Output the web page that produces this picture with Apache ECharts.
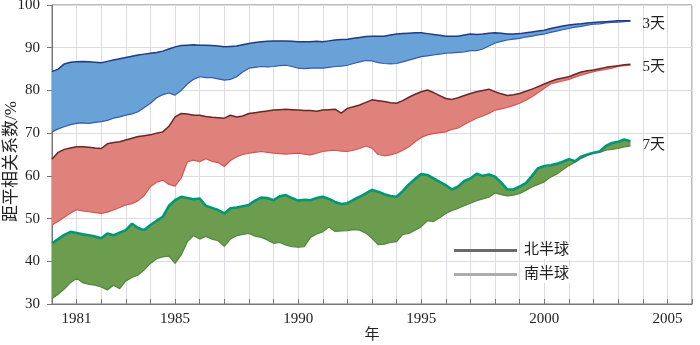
<!DOCTYPE html>
<html><head><meta charset="utf-8">
<script src="https://cdn.jsdelivr.net/npm/echarts@6/dist/echarts.min.js"></script>
<style>html,body{margin:0;padding:0;background:#fff}#c{width:700px;height:345px}</style>
</head><body><div id="c"></div>
<script>
// sample times (years, quarterly)
const years = [
1980,1980.25,1980.5,1980.75,1981,1981.25,1981.5,1981.75,1982,1982.25,1982.5,1982.75,
1983,1983.25,1983.5,1983.75,1984,1984.25,1984.5,1984.75,1985,1985.25,1985.5,1985.75,
1986,1986.25,1986.5,1986.75,1987,1987.25,1987.5,1987.75,1988,1988.25,1988.5,1988.75,
1989,1989.25,1989.5,1989.75,1990,1990.25,1990.5,1990.75,1991,1991.25,1991.5,1991.75,
1992,1992.25,1992.5,1992.75,1993,1993.25,1993.5,1993.75,1994,1994.25,1994.5,1994.75,
1995,1995.25,1995.5,1995.75,1996,1996.25,1996.5,1996.75,1997,1997.25,1997.5,1997.75,
1998,1998.25,1998.5,1998.75,1999,1999.25,1999.5,1999.75,2000,2000.25,2000.5,2000.75,
2001,2001.25,2001.5,2001.75,2002,2002.25,2002.5,2002.75,2003,2003.25,2003.5];

// 3-day, northern / southern hemisphere
const nh3 = [84.4,85.0,86.2,86.6, 86.7,86.8,86.7,86.6, 86.5,86.8,87.1,87.4, 87.7,88.0,88.3,88.5,
88.7,88.9,89.2,89.7, 90.2,90.5,90.6,90.7, 90.6,90.6,90.5,90.4, 90.2,90.3,90.4,90.7,
91.0,91.2,91.4,91.5, 91.6,91.6,91.6,91.5, 91.4,91.4,91.4,91.5, 91.4,91.6,91.8,91.9,
92.0,92.2,92.4,92.6, 92.7,92.7,92.7,93.0, 93.2,93.3,93.4,93.5, 93.5,93.3,93.1,92.9,
92.7,92.7,92.7,93.0, 93.2,93.1,93.2,93.4, 93.5,93.4,93.2,93.2, 93.3,93.5,93.7,93.9,
94.1,94.5,94.8,95.1, 95.3,95.5,95.6,95.8, 95.9,96.0,96.1,96.2, 96.3,96.3,96.3];
const sh3 = [70.3,71.0,71.5,72.0, 72.3,72.4,72.3,72.5, 72.7,73.0,73.5,73.8, 74.2,74.5,75.0,76.0,
77.0,78.3,79.0,79.4, 78.9,80.0,81.5,82.6, 83.2,83.0,83.0,82.7, 82.4,82.6,83.2,84.3,
85.2,85.4,85.6,85.5, 85.6,85.8,85.9,85.6, 85.2,85.1,85.2,85.3, 85.2,85.4,85.6,85.7,
85.9,86.3,86.7,87.0, 86.9,86.5,86.3,86.2, 86.3,86.7,87.1,87.5, 87.9,88.1,88.3,88.5,
88.7,88.8,88.9,89.0, 89.3,89.3,89.7,90.4, 91.1,91.5,91.8,92.0, 92.2,92.5,92.7,93.0,
93.2,93.6,93.9,94.2, 94.5,94.8,95.0,95.3, 95.5,95.6,95.8,95.9, 96.0,96.1,96.2];

// 5-day
const nh5 = [63.9,65.5,66.2,66.5, 66.8,66.8,66.7,66.5, 66.4,67.5,67.8,68.0, 68.4,68.8,69.2,69.4,
69.6,70.0,70.3,71.6, 73.8,74.6,74.5,74.2, 74.2,73.9,73.7,73.6, 73.5,74.2,73.8,74.0,
74.6,74.8,75.0,75.2, 75.4,75.5,75.6,75.5, 75.4,75.3,75.3,75.1, 75.4,75.5,75.6,74.7,
75.8,76.2,76.6,77.2, 77.8,77.6,77.4,77.1, 77.0,77.6,78.4,79.1, 79.7,80.1,79.5,78.8,
78.1,77.9,78.3,78.8, 79.3,79.7,80.0,80.3, 79.7,79.2,78.8,79.0, 79.3,79.8,80.3,80.9,
81.5,82.1,82.6,82.9, 83.2,83.8,84.3,84.6, 84.8,85.1,85.4,85.6, 85.8,86.0,86.1];
const sh5 = [48.5,49.4,50.3,51.3, 52.1,51.8,51.6,51.4, 51.2,51.5,52.0,52.6, 53.2,53.5,54.2,55.4,
57.5,58.5,59.0,58.0, 57.6,59.5,63.3,63.7, 63.3,64.0,63.4,63.1, 62.2,63.6,64.5,65.0,
65.3,65.5,65.7,65.5, 65.3,65.2,65.1,65.2, 65.3,65.1,64.9,65.3, 65.7,65.9,66.0,65.8,
65.7,66.0,66.4,67.0, 66.5,65.0,64.7,64.9, 65.3,66.0,66.8,68.0, 69.0,69.6,69.9,70.1,
70.3,70.9,71.2,72.0, 72.8,73.5,74.0,74.6, 75.4,75.7,76.0,76.5, 77.0,77.7,78.5,79.5,
80.5,81.5,81.9,82.2, 82.6,83.1,83.6,84.0, 84.4,84.7,84.9,85.2, 85.6,85.8,85.9];

// 7-day
const nh7 = [44.2,45.2,46.2,46.9, 46.6,46.3,46.1,45.8, 45.4,46.5,46.1,46.7, 47.3,48.8,47.8,47.3,
48.5,49.5,50.4,53.0, 54.3,55.1,54.8,54.5, 54.7,53.0,52.5,52.0, 51.2,52.4,52.6,52.9,
53.2,54.2,54.9,54.8, 54.3,55.2,55.5,54.8, 54.2,54.4,54.3,54.8, 55.1,54.6,53.9,53.4,
53.6,54.4,55.1,55.9, 56.7,56.3,55.7,55.3, 55.1,56.4,58.0,59.3, 60.4,60.2,59.4,58.6,
57.8,56.8,57.5,58.8, 59.4,60.5,60.0,60.3, 59.8,58.4,56.8,56.8, 57.5,58.3,60.0,61.8,
62.3,62.5,62.8,63.3, 63.9,63.4,64.5,65.0, 65.4,65.7,67.0,67.7, 68.0,68.5,68.1];
const sh7 = [31.3,32.3,33.5,35.0, 36.0,35.0,34.6,34.4, 34.0,33.3,34.4,33.6, 35.4,36.2,36.8,38.0,
39.5,40.6,41.0,41.2, 39.5,41.5,44.6,46.0, 45.2,45.8,45.2,44.8, 43.5,45.2,46.0,46.3,
46.5,45.9,45.6,45.0, 44.2,44.4,43.8,43.4, 43.3,43.4,45.6,46.4, 46.9,48.0,47.0,47.1,
47.2,47.4,47.3,46.6, 45.4,43.9,44.0,44.4, 44.6,46.3,46.5,47.3, 48.1,49.5,49.3,50.2,
51.2,51.9,52.4,53.0, 53.6,54.2,54.6,55.0, 56.0,55.6,55.3,55.5, 55.9,56.6,57.4,58.0,
58.6,59.7,60.4,61.4, 62.4,63.2,64.1,64.8, 65.3,65.5,66.0,66.2, 66.4,66.8,67.0];

const xLabelYears = [1981, 1985, 1990, 1995, 2000, 2005];
const bandLabels = ['3天', '5天', '7天'];
const legendNames = ['北半球', '南半球'];

const FONT = "'Liberation Serif','Noto Sans CJK SC',serif";
const bands = [
  {label: bandLabels[0], nh: nh3, sh: sh3, fill: '#68a2d7', top: '#27387c', bot: '#2d5cb5', topW: 1.5, botW: 1.2, dy: 3},
  {label: bandLabels[1], nh: nh5, sh: sh5, fill: '#df827c', top: '#5e2b2b', bot: '#e0504a', topW: 1.5, botW: 1.2, dy: 3},
  {label: bandLabels[2], nh: nh7, sh: sh7, fill: '#6c9d4e', top: '#00967c', bot: '#4d8a36', topW: 2.6, botW: 1.2, dy: 4}
];

const pairs = arr => years.map((y, i) => [y, arr[i]]);

const series = [];
bands.forEach((b) => {
  series.push({
    type: 'custom', silent: true, z: 2,
    data: [[years[0], b.nh[0]]],
    renderItem: (params, api) => {
      const pts = [];
      for (let i = 0; i < years.length; i++) pts.push(api.coord([years[i], b.nh[i]]));
      for (let i = years.length - 1; i >= 0; i--) pts.push(api.coord([years[i], b.sh[i]]));
      return {type: 'polygon', shape: {points: pts}, style: {fill: b.fill}};
    }
  });
  series.push({
    type: 'line', data: pairs(b.sh), symbol: 'none', silent: true, z: 3,
    lineStyle: {color: b.bot, width: b.botW}
  });
  series.push({
    type: 'line', data: pairs(b.nh), symbol: 'none', silent: true, z: 4,
    lineStyle: {color: b.top, width: b.topW},
    endLabel: {show: true, formatter: b.label, distance: 12, offset: [0, b.dy], color: '#222',
      fontFamily: FONT, fontSize: 15}
  });
});
series.push({name: legendNames[0], type: 'line', data: [], color: '#6a6a6a', symbol: 'none'});
series.push({name: legendNames[1], type: 'line', data: [], color: '#adadad', symbol: 'none'});

const chart = echarts.init(document.getElementById('c'), null, {renderer: 'canvas'});
chart.setOption({
  backgroundColor: '#fff',
  animation: false,
  grid: {left: 52, right: 8, top: 5, bottom: 41, show: true, borderColor: '#777', borderWidth: 1,
    containLabel: false, outerBoundsMode: 'none'},
  legend: {
    data: legendNames, orient: 'vertical', left: 449, top: 237, itemGap: 7,
    icon: 'rect', itemWidth: 63, itemHeight: 3,
    textStyle: {fontFamily: FONT, fontSize: 15, color: '#222', backgroundColor: '#fff', padding: [1, 2]}
  },
  xAxis: {
    type: 'value', min: 1980, max: 2006, interval: 1,
    name: '年', nameLocation: 'middle', nameGap: 24, nameMoveOverlap: false,
    nameTextStyle: {fontFamily: FONT, fontSize: 15, color: '#222'},
    axisLine: {show: true, lineStyle: {color: '#777'}},
    axisTick: {show: true, inside: true, length: 5, lineStyle: {color: '#777'}},
    axisLabel: {fontFamily: FONT, fontSize: 15, color: '#222', margin: 8,
      formatter: v => xLabelYears.indexOf(Math.round(v)) >= 0 ? String(Math.round(v)) : ''},
    splitLine: {show: true, lineStyle: {color: '#dcdce4', width: 1}}
  },
  yAxis: {
    type: 'value', min: 30, max: 100, interval: 10,
    name: '距平相关系数/%', nameLocation: 'middle', nameGap: 32, nameRotate: 90, nameMoveOverlap: false,
    nameTextStyle: {fontFamily: FONT, fontSize: 17, color: '#222', padding: [0, 14, 0, 0]},
    axisLine: {show: true, lineStyle: {color: '#777'}},
    axisTick: {show: true, inside: false, length: 5, lineStyle: {color: '#777'}},
    axisLabel: {fontFamily: FONT, fontSize: 15, color: '#222', margin: 12},
    splitLine: {show: true, lineStyle: {color: '#dcdce4', width: 1}}
  },
  series: series
});
</script>
</body></html>
